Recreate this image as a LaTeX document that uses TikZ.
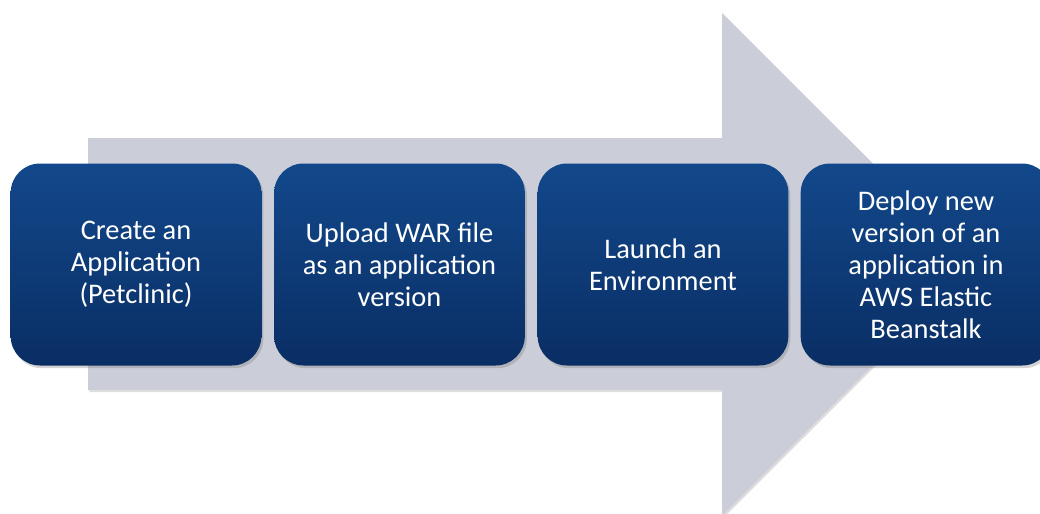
\documentclass[tikz,border=0pt]{standalone}
\usepackage{fontspec}
\setmainfont{Carlito}
\usetikzlibrary{positioning, shadows}

\definecolor{arrowgrey}{RGB}{203,206,216}
\definecolor{boxtop}{RGB}{18,72,139}
\definecolor{boxbottom}{RGB}{10,46,100}

\begin{document}
\begin{tikzpicture}[
    x=0.75pt, y=-0.75pt,
    stage/.style={rectangle, rounded corners=22pt, minimum width=188pt, minimum height=151.5pt,
        top color=boxtop, bottom color=boxbottom, text=white, align=center,
        font=\fontsize{21.3}{24}\selectfont,
        drop shadow={opacity=0.35, shadow xshift=1.5pt, shadow yshift=-2pt}},
    bigarrow/.style={fill=arrowgrey,
        drop shadow={opacity=0.25, shadow xshift=1pt, shadow yshift=-1.5pt}}
]
\useasboundingbox (0,0) rectangle (1040,514);

% Background arrow
\fill[bigarrow] (88,138) -- (722,138) -- (722,13) -- (974,264.5) -- (722,516)
    -- (722,390) -- (88,390) -- cycle;

% Process steps
\node[stage] (create) at (136,264.5) {Create an\\Application\\(Petclinic)};
\node[stage] (upload) at (399.5,264.5) {Upload WAR file\\as an application\\version};
\node[stage] (launch) at (663,264.5) {Launch an\\Environment};
\node[stage] (deploy) at (926,264.5) {Deploy new\\version of an\\application in\\AWS Elastic\\Beanstalk};

\end{tikzpicture}
\end{document}
